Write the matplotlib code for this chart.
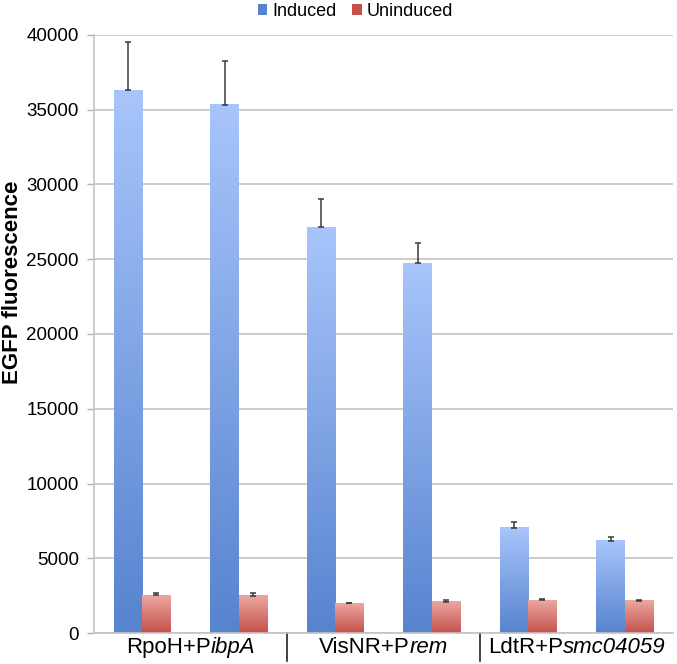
import numpy as np
import matplotlib
matplotlib.use("Agg")
import matplotlib.pyplot as plt
from matplotlib.colors import LinearSegmentedColormap
from matplotlib.patches import Patch
from matplotlib.lines import Line2D
import matplotlib.transforms as mtransforms

plt.rcParams['font.family'] = ['Liberation Sans', 'DejaVu Sans']

# Data
group_plain = ["RpoH+P", "VisNR+P", "LdtR+P"]
group_italic = ["ibpA", "rem", "smc04059"]
induced = [36300, 35350, 27130, 24730, 7050, 6180]
induced_err = [3250, 2930, 1880, 1340, 400, 270]
uninduced = [2540, 2500, 1990, 2080, 2200, 2160]
uninduced_err = [110, 170, 40, 110, 70, 40]
series_names = ["Induced", "Uninduced"]
yticks = [0, 5000, 10000, 15000, 20000, 25000, 30000, 35000, 40000]

blue_top, blue_bot = "#a8c5fb", "#5783cf"
red_top, red_bot = "#eca7a1", "#c4514a"

fig = plt.figure(figsize=(6.77, 6.64), dpi=100)
ax = fig.add_axes([94/677, 31/664, 579/677, 598/664])

n = len(induced)
x = np.arange(n)
w = 0.295

def grad_bars(xpos, vals, top, bot):
    bars = ax.bar(xpos, vals, width=w, color='none', edgecolor='none', zorder=2)
    cmap = LinearSegmentedColormap.from_list('g', [bot, top])
    grad = np.linspace(0, 1, 256).reshape(-1, 1)
    for b in bars:
        x0, y0 = b.get_x(), b.get_y()
        x1, y1 = x0 + b.get_width(), y0 + b.get_height()
        ax.imshow(grad, extent=[x0, x1, y0, y1], origin='lower', cmap=cmap,
                  aspect='auto', zorder=2, interpolation='bilinear')
    return bars

grad_bars(x - w/2, induced, blue_top, blue_bot)
grad_bars(x + w/2, uninduced, red_top, red_bot)

ax.errorbar(x - w/2, induced, yerr=[np.zeros(n), induced_err], fmt='none',
            ecolor='#3a3a3a', elinewidth=1.1, capsize=2.2, capthick=1.1, zorder=3)
ax.errorbar(x + w/2, uninduced, yerr=[np.zeros(n), uninduced_err], fmt='none',
            ecolor='#3a3a3a', elinewidth=1.1, capsize=2.2, capthick=1.1, zorder=3)

ax.set_xlim(-0.5, n - 0.5)
ax.set_ylim(0, 40000)
ax.set_yticks(yticks)
ax.set_yticklabels([str(t) for t in yticks], fontsize=13.5)
ax.yaxis.grid(True, color='#c4c4c4', lw=1.2, zorder=0)
ax.set_axisbelow(True)
ax.tick_params(axis='y', length=5, color='#b0b0b0', pad=6, width=1)
ax.set_xticks([])
for s in ['top', 'right']:
    ax.spines[s].set_visible(False)
for s in ['left', 'bottom']:
    ax.spines[s].set_color('#c4c4c4')
    ax.spines[s].set_linewidth(1.2)

fig.text(13/677, 1 - 282/664, "EGFP fluorescence", rotation=90, ha='center',
         va='center', fontsize=16, fontweight='bold')

# group labels: plain + italic, centered together
trans = mtransforms.blended_transform_factory(ax.transData, ax.transAxes)
fig.canvas.draw()
renderer = fig.canvas.get_renderer()
for i, (p, it) in enumerate(zip(group_plain, group_italic)):
    cx = 2*i + 0.5
    t1 = ax.text(cx, -0.024, p, transform=trans, ha='left', va='center', fontsize=16)
    t2 = ax.text(cx, -0.024, it, transform=trans, ha='left', va='center',
                 fontsize=16, style='italic')
    w1 = t1.get_window_extent(renderer).width
    w2 = t2.get_window_extent(renderer).width
    cx_px = ax.transData.transform((cx, 0))[0]
    left_px = cx_px - (w1 + w2) / 2
    off1 = mtransforms.ScaledTranslation((left_px - cx_px) / 100, 0, fig.dpi_scale_trans)
    off2 = mtransforms.ScaledTranslation((left_px + w1 - cx_px) / 100, 0, fig.dpi_scale_trans)
    t1.set_transform(trans + off1)
    t2.set_transform(trans + off2)

for sx in [1.5, 3.5]:
    ax.add_line(Line2D([sx, sx], [0, -0.046], transform=trans, color='#222222',
                       lw=1.2, clip_on=False))

handles = [Patch(facecolor=blue_bot, edgecolor='none'), Patch(facecolor=red_bot, edgecolor='none')]
fig.legend(handles, series_names, loc='center', bbox_to_anchor=(0.525, 0.983),
           ncol=2, frameon=False, fontsize=13, handlelength=0.5,
           handleheight=0.5, handletextpad=0.3, columnspacing=0.9)

fig.savefig("out.png", dpi=100)
